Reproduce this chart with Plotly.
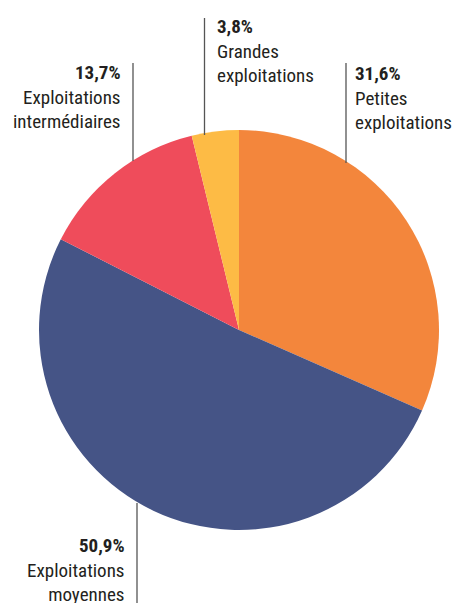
import plotly.graph_objects as go

# Répartition des exploitations par taille
categories = ["Petites exploitations", "Exploitations moyennes",
              "Exploitations intermédiaires", "Grandes exploitations"]
label_lines = [["Petites", "exploitations"], ["Exploitations", "moyennes"],
               ["Exploitations", "intermédiaires"], ["Grandes", "exploitations"]]
values = [31.6, 50.9, 13.7, 3.8]
colors = ["#F3863C", "#455486", "#EF4C5B", "#FDBB45"]

W, H = 457, 603
FONT = "Liberation Sans Narrow, Roboto Condensed, Arial Narrow, sans-serif"
TXT = "#231F20"

def px(x):
    return x / W

def py(y):
    return 1 - y / H

fig = go.Figure(go.Pie(
    labels=categories,
    values=values,
    marker=dict(colors=colors, line=dict(width=0)),
    sort=False,
    direction="clockwise",
    rotation=0,
    textinfo="none",
    hoverinfo="label+percent",
    showlegend=False,
    domain=dict(x=[px(39), px(439)], y=[py(530), py(130)]),
))

def fmt(v):
    return f"{v:.1f}".replace(".", ",") + "%"

# label placement: (anchor x, top y, side) and leader line (x, y0, y1)
label_pos = [
    (353, 60, "left"),
    (127, 532, "right"),
    (123, 59, "right"),
    (215, 13, "left"),
]
leaders = [
    (346, 63, 163),
    (137, 503, 603),
    (133, 63, 161),
    (204.5, 18, 135),
]

for v, lines, (x, y, side), (lx, ly0, ly1) in zip(values, label_lines, label_pos, leaders):
    text = f"<b>{fmt(v)}</b><br>" + "<br>".join(lines)
    fig.add_annotation(
        x=px(x), y=py(y), xref="paper", yref="paper",
        xanchor=side, yanchor="top", align=side,
        text=text, showarrow=False,
        font=dict(family=FONT, size=19, color=TXT),
    )
    fig.add_shape(
        type="line", xref="paper", yref="paper",
        x0=px(lx), x1=px(lx), y0=py(ly0), y1=py(ly1),
        line=dict(color="#555555", width=1.3),
    )

fig.update_layout(
    width=W, height=H,
    margin=dict(l=0, r=0, t=0, b=0),
    paper_bgcolor="white",
    plot_bgcolor="white",
)

fig.write_html("out.html")
